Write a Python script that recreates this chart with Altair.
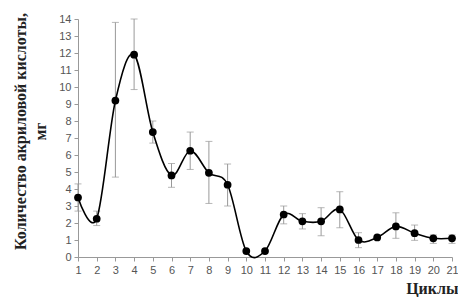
import altair as alt
import pandas as pd

cycles = list(range(1, 22))
values = [3.5, 2.25, 9.2, 11.9, 7.35, 4.8, 6.25, 4.95, 4.25, 0.35, 0.35,
          2.5, 2.1, 2.1, 2.8, 1.0, 1.15, 1.8, 1.4, 1.1, 1.1]
err_hi = [4.3, 2.7, 13.8, 14.0, 8.0, 5.5, 7.35, 6.8, 5.47, 0.35, 0.35,
          3.0, 2.55, 2.9, 3.84, 1.43, 1.15, 2.6, 1.88, 1.3, 1.3]
err_lo = [2.7, 1.85, 4.7, 9.85, 6.7, 4.1, 5.15, 3.15, 3.0, 0.35, 0.35,
          1.95, 1.65, 1.25, 1.72, 0.55, 1.15, 1.1, 0.98, 0.8, 0.8]
y_ticks = list(range(0, 15))

df = pd.DataFrame({"c": cycles, "v": values, "hi": err_hi, "lo": err_lo})

xs = alt.Scale(domain=[1, 21], nice=False, zero=False)
ys = alt.Scale(domain=[0, 14], nice=False)

xax = alt.Axis(values=cycles, title="Циклы", grid=False, tickSize=4,
               labelOverlap=False, labelFlush=False, format="d",
               labelFont="Liberation Sans", labelFontSize=11, labelColor="#555",
               domainColor="#999", tickColor="#999", labelPadding=3,
               titleFont="Liberation Serif", titleFontSize=16, titleFontWeight="bold",
               titleColor="#222", titleAnchor="end", titleAlign="right",
               titleX=380, titleY=31, titleBaseline="middle")
yax = alt.Axis(values=y_ticks, title=["Количество акриловой кислоты,", "мг"],
               grid=False, tickSize=4, labelOverlap=False, labelFlush=False, format="d",
               labelFont="Liberation Sans", labelFontSize=11, labelColor="#555",
               domainColor="#999", tickColor="#999", labelPadding=3,
               titleFont="Liberation Serif", titleFontSize=16, titleFontWeight="bold",
               titleColor="#222", titleAngle=-90, titleAlign="center",
               titleBaseline="top", titleX=-66, titleY=112, titleLineHeight=20)

X = alt.X("c:Q", scale=xs, axis=xax)

base = alt.Chart(df)
rule = base.mark_rule(color="#999", strokeWidth=1).encode(
    x=X, y=alt.Y("lo:Q", scale=ys, axis=yax), y2="hi:Q")
cap_hi = base.mark_tick(color="#999", size=7, thickness=1, orient="horizontal").encode(
    x=X, y=alt.Y("hi:Q", scale=ys, axis=yax))
cap_lo = base.mark_tick(color="#999", size=7, thickness=1, orient="horizontal").encode(
    x=X, y=alt.Y("lo:Q", scale=ys, axis=yax))
line = base.mark_line(color="black", strokeWidth=1.6, interpolate="cardinal", tension=0).encode(
    x=X, y=alt.Y("v:Q", scale=ys, axis=yax))
pts = base.mark_circle(color="black", size=60, opacity=1).encode(
    x=X, y=alt.Y("v:Q", scale=ys, axis=yax))

chart = alt.layer(rule, cap_hi, cap_lo, line, pts).properties(
    width=374, height=238,
    autosize=alt.AutoSizeParams(type="none"),
    padding={"left": 70, "top": 11, "right": 6, "bottom": 40},
).configure_view(stroke=None)

chart.save("out.html", embed_options={"renderer": "svg", "actions": False})
